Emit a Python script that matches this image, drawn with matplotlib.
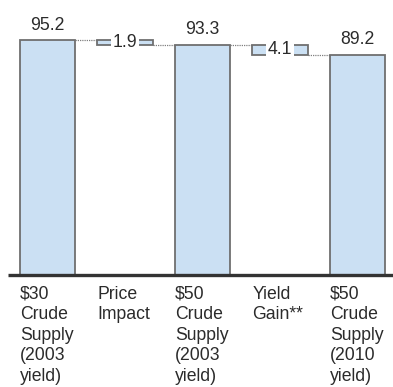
import matplotlib
matplotlib.use("Agg")
import matplotlib.pyplot as plt
from matplotlib.transforms import blended_transform_factory

plt.rcParams["font.family"] = ["Liberation Sans", "DejaVu Sans"]

categories = [
    "$30\nCrude\nSupply\n(2003\nyield)",
    "Price\nImpact",
    "$50\nCrude\nSupply\n(2003\nyield)",
    "Yield\nGain**",
    "$50\nCrude\nSupply\n(2010\nyield)",
]
totals = [95.2, None, 93.3, None, 89.2]
changes = [None, -1.9, None, -4.1, None]

bar_color = "#cbe0f3"
edge_color = "#6f6f6f"
text_color = "#2b2b2b"
width = 0.71
font_size = 12.7

fig = plt.figure(figsize=(3.93, 3.87), dpi=100)
ax = fig.add_axes([0, 1 - 275 / 387, 1, 275 / 387])
ax.set_xlim(-0.613, 4.458)
ax.set_ylim(0, 111.4)

level = 0
prev_right = None
for i, (total, change) in enumerate(zip(totals, changes)):
    if total is not None:
        ax.bar(i, total, width=width, color=bar_color, edgecolor=edge_color,
               linewidth=1.3, zorder=2)
        ax.text(i, total + 2.6, f"{total:.1f}", ha="center", va="bottom",
                fontsize=font_size, color=text_color)
        new_level = total
    else:
        new_level = level + change
        ax.bar(i, level - new_level, bottom=new_level, width=width,
               color=bar_color, edgecolor=edge_color, linewidth=1.3, zorder=2)
        ax.text(i, (level + new_level) / 2, f"{-change:.1f}", ha="center",
                va="center", fontsize=font_size, color=text_color, zorder=3,
                bbox=dict(facecolor="white", edgecolor="none", pad=1.5))
    # dotted connector from the previous bar's top to this bar
    if prev_right is not None:
        ax.plot([prev_right, i - width / 2], [level, level], color="#808080",
                linestyle=(0, (1, 0.8)), linewidth=0.9, zorder=1)
    prev_right = i + width / 2
    level = new_level

for side in ["top", "right", "left", "bottom"]:
    ax.spines[side].set_visible(False)
ax.plot([8 / 393, 1], [0, 0], transform=ax.transAxes, color="#333333",
        linewidth=2.4, clip_on=False, zorder=4, solid_capstyle="butt")
ax.set_xticks([])
ax.set_yticks([])

trans = blended_transform_factory(ax.transData, fig.transFigure)
for i, label in enumerate(categories):
    ax.text(i - width / 2, 1 - 286 / 387, label, transform=trans, ha="left",
            va="top", fontsize=font_size, color=text_color, linespacing=1.26)

fig.savefig("out.png", dpi=100)
